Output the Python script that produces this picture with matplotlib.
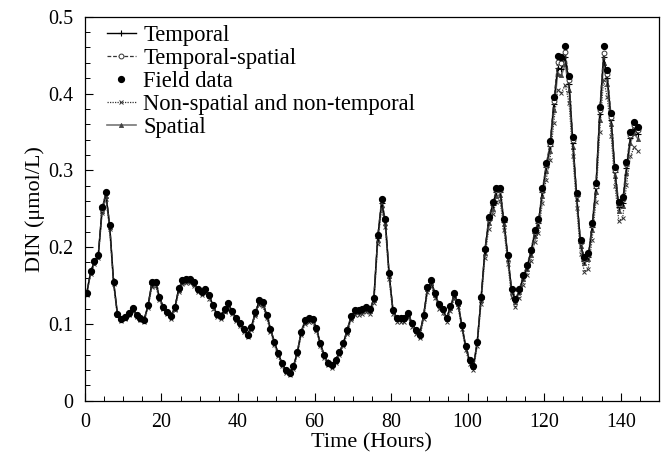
import numpy as np
import matplotlib
matplotlib.use("Agg")
import matplotlib.pyplot as plt
from matplotlib.ticker import MultipleLocator

plt.rcParams['font.family'] = ['Liberation Serif', 'DejaVu Serif']

field = [
    0.140, 0.169, 0.182, 0.190, 0.252, 0.272, 0.229, 0.155, 0.113, 0.106,
    0.109, 0.114, 0.121, 0.112, 0.108, 0.105, 0.125, 0.154, 0.155, 0.135,
    0.122, 0.116, 0.110, 0.122, 0.147, 0.157, 0.158, 0.158, 0.154, 0.145,
    0.142, 0.145, 0.138, 0.124, 0.113, 0.110, 0.119, 0.127, 0.117, 0.108,
    0.101, 0.093, 0.086, 0.096, 0.115, 0.131, 0.128, 0.112, 0.094, 0.077,
    0.062, 0.049, 0.040, 0.036, 0.045, 0.064, 0.090, 0.105, 0.108, 0.107,
    0.095, 0.075, 0.060, 0.049, 0.046, 0.053, 0.063, 0.075, 0.092, 0.110,
    0.118, 0.118, 0.119, 0.122, 0.119, 0.134, 0.216, 0.263, 0.237, 0.166, 0.118,
    0.108, 0.108, 0.108, 0.114, 0.101, 0.092, 0.086, 0.112, 0.148, 0.157,
    0.140, 0.126, 0.120, 0.108, 0.123, 0.140, 0.128, 0.098, 0.071, 0.053,
    0.045, 0.077, 0.135, 0.198, 0.239, 0.259, 0.277, 0.277, 0.236, 0.190,
    0.146, 0.133, 0.146, 0.164, 0.177, 0.196, 0.222, 0.236, 0.277, 0.310,
    0.338, 0.395, 0.449, 0.447, 0.462, 0.423, 0.343, 0.270, 0.209, 0.187,
    0.192, 0.231, 0.283, 0.382, 0.462, 0.430, 0.374, 0.304, 0.259, 0.265,
    0.311, 0.350, 0.363, 0.356,
]

temporal = [
    0.140, 0.168, 0.181, 0.189, 0.249, 0.270, 0.228, 0.156, 0.114, 0.107,
    0.109, 0.113, 0.120, 0.112, 0.108, 0.106, 0.124, 0.152, 0.154, 0.135,
    0.122, 0.115, 0.111, 0.121, 0.145, 0.156, 0.157, 0.157, 0.153, 0.145,
    0.142, 0.144, 0.137, 0.124, 0.113, 0.111, 0.118, 0.126, 0.117, 0.108,
    0.101, 0.093, 0.087, 0.096, 0.114, 0.129, 0.127, 0.112, 0.094, 0.077,
    0.062, 0.049, 0.040, 0.037, 0.045, 0.063, 0.089, 0.104, 0.107, 0.106,
    0.095, 0.075, 0.060, 0.050, 0.047, 0.053, 0.063, 0.075, 0.091, 0.109,
    0.117, 0.117, 0.118, 0.121, 0.118, 0.133, 0.212, 0.258, 0.234, 0.165, 0.118,
    0.108, 0.107, 0.107, 0.113, 0.101, 0.092, 0.087, 0.111, 0.146, 0.155,
    0.139, 0.125, 0.119, 0.108, 0.122, 0.138, 0.127, 0.098, 0.071, 0.052,
    0.045, 0.076, 0.133, 0.195, 0.235, 0.255, 0.272, 0.272, 0.233, 0.188,
    0.144, 0.131, 0.143, 0.161, 0.174, 0.193, 0.218, 0.232, 0.272, 0.304,
    0.331, 0.386, 0.433, 0.432, 0.447, 0.413, 0.336, 0.266, 0.205, 0.182,
    0.187, 0.226, 0.277, 0.373, 0.448, 0.420, 0.366, 0.298, 0.252, 0.258,
    0.303, 0.342, 0.354, 0.347,
]

temporal_spatial = [
    0.140, 0.168, 0.181, 0.190, 0.250, 0.271, 0.229, 0.155, 0.113, 0.106,
    0.109, 0.114, 0.121, 0.112, 0.107, 0.105, 0.125, 0.153, 0.155, 0.135,
    0.122, 0.116, 0.110, 0.122, 0.146, 0.157, 0.158, 0.157, 0.154, 0.145,
    0.142, 0.145, 0.138, 0.124, 0.113, 0.110, 0.119, 0.127, 0.117, 0.108,
    0.101, 0.093, 0.086, 0.096, 0.115, 0.130, 0.128, 0.112, 0.094, 0.077,
    0.062, 0.049, 0.040, 0.036, 0.045, 0.064, 0.090, 0.105, 0.108, 0.107,
    0.095, 0.075, 0.060, 0.049, 0.046, 0.053, 0.063, 0.075, 0.092, 0.110,
    0.118, 0.118, 0.119, 0.122, 0.119, 0.134, 0.214, 0.261, 0.236, 0.166, 0.118,
    0.108, 0.108, 0.108, 0.114, 0.101, 0.092, 0.086, 0.112, 0.147, 0.156,
    0.140, 0.126, 0.120, 0.108, 0.123, 0.139, 0.128, 0.098, 0.071, 0.053,
    0.045, 0.077, 0.134, 0.197, 0.237, 0.257, 0.274, 0.275, 0.235, 0.189,
    0.145, 0.132, 0.145, 0.163, 0.176, 0.195, 0.220, 0.234, 0.274, 0.307,
    0.334, 0.390, 0.441, 0.440, 0.454, 0.418, 0.340, 0.268, 0.207, 0.185,
    0.190, 0.229, 0.280, 0.378, 0.453, 0.425, 0.370, 0.301, 0.256, 0.262,
    0.308, 0.346, 0.359, 0.352,
]

spatial = [
    0.139, 0.167, 0.180, 0.188, 0.247, 0.267, 0.226, 0.155, 0.113, 0.106,
    0.108, 0.113, 0.119, 0.111, 0.107, 0.105, 0.123, 0.151, 0.153, 0.134,
    0.121, 0.115, 0.110, 0.120, 0.144, 0.155, 0.156, 0.156, 0.152, 0.144,
    0.141, 0.143, 0.136, 0.123, 0.112, 0.110, 0.117, 0.125, 0.116, 0.107,
    0.100, 0.092, 0.086, 0.095, 0.113, 0.128, 0.126, 0.111, 0.093, 0.076,
    0.061, 0.048, 0.039, 0.036, 0.044, 0.062, 0.088, 0.103, 0.106, 0.105,
    0.094, 0.074, 0.059, 0.049, 0.046, 0.052, 0.062, 0.074, 0.090, 0.108,
    0.116, 0.116, 0.117, 0.120, 0.117, 0.131, 0.209, 0.255, 0.231, 0.163, 0.117,
    0.107, 0.106, 0.106, 0.112, 0.100, 0.091, 0.086, 0.110, 0.145, 0.153,
    0.138, 0.124, 0.118, 0.107, 0.121, 0.137, 0.126, 0.097, 0.070, 0.052,
    0.044, 0.075, 0.131, 0.192, 0.231, 0.250, 0.267, 0.268, 0.230, 0.185,
    0.142, 0.129, 0.141, 0.158, 0.171, 0.190, 0.214, 0.228, 0.267, 0.299,
    0.325, 0.378, 0.425, 0.424, 0.438, 0.405, 0.330, 0.262, 0.202, 0.179,
    0.184, 0.222, 0.272, 0.366, 0.440, 0.412, 0.360, 0.293, 0.247, 0.253,
    0.297, 0.336, 0.348, 0.341,
]

non_spatial = [
    0.138, 0.165, 0.178, 0.186, 0.244, 0.263, 0.223, 0.152, 0.111, 0.104,
    0.106, 0.111, 0.117, 0.109, 0.105, 0.103, 0.121, 0.148, 0.150, 0.131,
    0.119, 0.113, 0.107, 0.118, 0.141, 0.152, 0.153, 0.153, 0.149, 0.141,
    0.138, 0.140, 0.133, 0.120, 0.109, 0.107, 0.115, 0.122, 0.113, 0.104,
    0.097, 0.089, 0.083, 0.092, 0.110, 0.125, 0.123, 0.108, 0.090, 0.073,
    0.058, 0.045, 0.036, 0.033, 0.041, 0.059, 0.085, 0.100, 0.103, 0.102,
    0.091, 0.071, 0.056, 0.046, 0.043, 0.049, 0.059, 0.071, 0.087, 0.105,
    0.112, 0.112, 0.113, 0.116, 0.113, 0.127, 0.204, 0.250, 0.226, 0.158, 0.113,
    0.103, 0.102, 0.102, 0.108, 0.096, 0.087, 0.082, 0.106, 0.141, 0.149,
    0.134, 0.120, 0.114, 0.103, 0.117, 0.133, 0.122, 0.093, 0.066, 0.048,
    0.040, 0.071, 0.126, 0.186, 0.224, 0.243, 0.259, 0.260, 0.222, 0.178,
    0.135, 0.122, 0.134, 0.151, 0.164, 0.182, 0.206, 0.219, 0.257, 0.288,
    0.313, 0.362, 0.405, 0.401, 0.411, 0.388, 0.318, 0.251, 0.191, 0.168,
    0.172, 0.209, 0.259, 0.350, 0.418, 0.395, 0.345, 0.280, 0.234, 0.238,
    0.281, 0.318, 0.330, 0.325,
]

hours = np.arange(len(field)) + 0.5

fig = plt.figure(figsize=(6.69, 4.68), dpi=100)
ax = fig.add_axes([0.1268, 0.1438, 0.8583, 0.8205])

ax.plot(hours, temporal, color='black', lw=1.0, marker='+', ms=4, mew=0.8,
        label='Temporal', zorder=3)
ax.plot(hours, temporal_spatial, color='#333333', lw=0.9, ls=(0, (3, 1.5)),
        marker='o', ms=3.5, mfc='white', mec='#333333', mew=0.7,
        label='Temporal-spatial', zorder=3)
ax.plot(hours, field, ls='none', marker='o', ms=4.2, color='black',
        label='Field data', zorder=5)
ax.plot(hours, non_spatial, color='#333333', lw=0.9, ls=(0, (1, 1)),
        marker='x', ms=3.5, mew=0.7, mec='#333333',
        label='Non-spatial and non-temporal', zorder=2)
ax.plot(hours, spatial, color='#777777', lw=1.2, marker='^', ms=3, mew=0.6,
        mfc='#444444', mec='#444444',
        label='Spatial', zorder=2)

ax.set_xlim(0, 150)
ax.set_ylim(0, 0.5)
ax.xaxis.set_major_locator(MultipleLocator(20))
ax.xaxis.set_minor_locator(MultipleLocator(5))
ax.yaxis.set_minor_locator(MultipleLocator(0.02))
ax.set_yticks([0, 0.1, 0.2, 0.3, 0.4, 0.5])
ax.set_yticklabels(['0', '0.1', '0.2', '0.3', '0.4', '0.5'])

ax.tick_params(which='both', direction='in', top=False, right=False,
               labelsize=14.4)
ax.tick_params(axis='x', which='major', pad=8.5)
ax.tick_params(axis='y', which='major', pad=8.5)
ax.tick_params(which='major', length=6, width=0.8)
ax.tick_params(which='minor', length=3.5, width=0.7)
for s in ax.spines.values():
    s.set_linewidth(0.9)

ax.set_xlabel('Time (Hours)', fontsize=16, labelpad=1.5)
ax.set_ylabel('DIN (μmol/L)', fontsize=16, labelpad=2)

leg = ax.legend(loc='upper left', frameon=False, fontsize=16.3,
                handlelength=1.3, handletextpad=0.32, labelspacing=0.09,
                borderpad=0.0, borderaxespad=0.0,
                bbox_to_anchor=(0.038, 0.978))

fig.savefig('out.png', dpi=100)
